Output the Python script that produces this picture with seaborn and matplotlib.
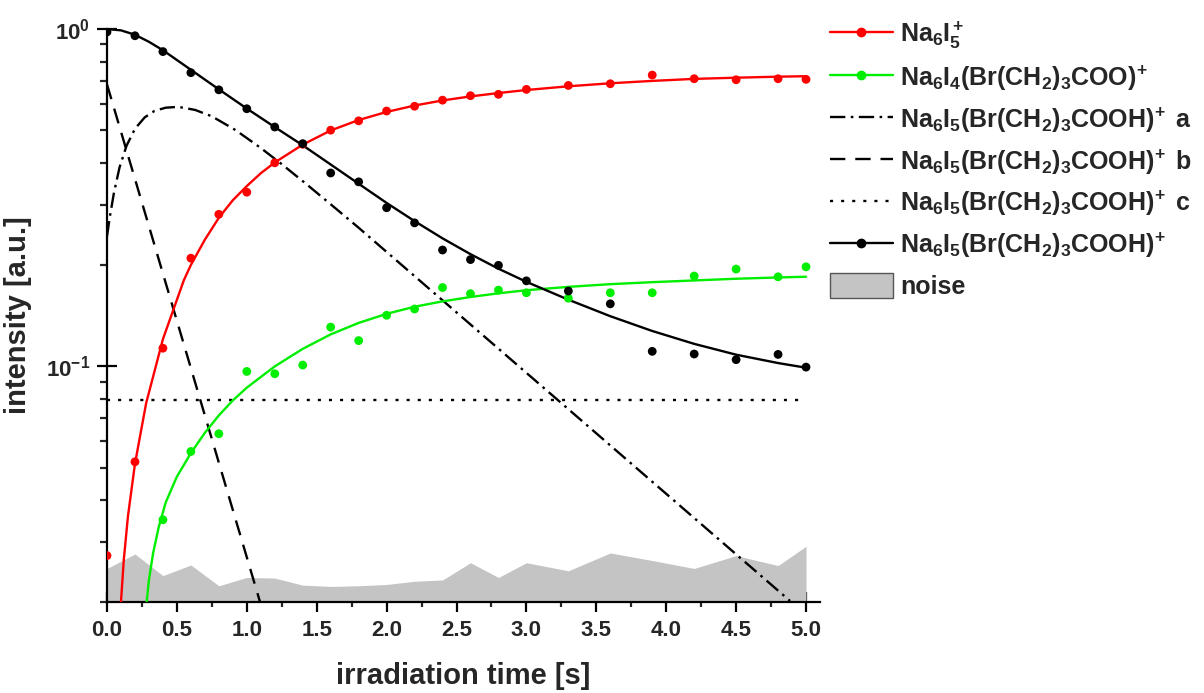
import numpy as np
import matplotlib
matplotlib.use("Agg")
import matplotlib.pyplot as plt
import seaborn as sns
from matplotlib.lines import Line2D
from matplotlib.patches import Patch
from matplotlib.ticker import MultipleLocator, LogLocator, NullFormatter

# ---------------- data ----------------
time = [0.0, 0.2, 0.4, 0.6, 0.8, 1.0, 1.2, 1.4, 1.6, 1.8, 2.0, 2.2, 2.4,
        2.6, 2.8, 3.0, 3.3, 3.6, 3.9, 4.2, 4.5, 4.8, 5.0]
red_pts = [0.0274, 0.052, 0.113, 0.209, 0.282, 0.328, 0.401, 0.455, 0.501,
           0.534, 0.571, 0.590, 0.615, 0.634, 0.640, 0.662, 0.680, 0.688,
           0.730, 0.712, 0.707, 0.712, 0.709]
green_pts = [np.nan, np.nan, 0.0350, 0.0558, 0.0630, 0.0964, 0.0949, 0.1007,
             0.1305, 0.119, 0.1415, 0.1477, 0.171, 0.164, 0.168, 0.165, 0.159,
             0.165, 0.165, 0.185, 0.194, 0.184, 0.197]
black_pts = [0.98, 0.955, 0.857, 0.742, 0.660, 0.580, 0.512, 0.457, 0.374,
             0.352, 0.295, 0.266, 0.221, 0.207, 0.199, 0.179, 0.167, 0.153,
             0.1106, 0.1086, 0.1045, 0.1083, 0.0993]
noise = [0.0251, 0.0277, 0.0239, 0.0257, 0.0223, 0.0236, 0.0235, 0.0224,
         0.0222, 0.0223, 0.0225, 0.0230, 0.0232, 0.0261, 0.0236, 0.0261,
         0.0247, 0.0279, 0.0265, 0.0251, 0.0274, 0.0256, 0.0292]

# fitted curves
fit_red_t = [0.10, 0.12, 0.15, 0.20, 0.28, 0.40, 0.55, 0.60, 0.70, 0.80, 0.90,
             1.00, 1.10, 1.20, 1.40, 1.60, 1.80, 2.00, 2.20, 2.40, 2.60, 2.80,
             3.00, 3.30, 3.60, 3.90, 4.20, 4.50, 4.80, 5.00]
fit_red = [0.0200, 0.0266, 0.0359, 0.0513, 0.0776, 0.1202, 0.1799, 0.1995,
           0.2371, 0.2754, 0.3105, 0.3420, 0.3733, 0.4018, 0.4539, 0.5000,
           0.5370, 0.5675, 0.5929, 0.6138, 0.6310, 0.6457, 0.6592, 0.6761,
           0.6902, 0.7015, 0.7112, 0.7170, 0.7220, 0.7244]
fit_green_t = [0.284, 0.30, 0.33, 0.37, 0.42, 0.50, 0.60, 0.70, 0.80, 0.90,
               1.00, 1.20, 1.40, 1.60, 1.80, 2.00, 2.20, 2.40, 2.60, 2.80,
               3.00, 3.30, 3.60, 3.90, 4.20, 4.50, 4.80, 5.00]
fit_green = [0.0200, 0.0232, 0.0279, 0.0333, 0.0394, 0.0470, 0.0552, 0.0634,
             0.0714, 0.0791, 0.0863, 0.0998, 0.1125, 0.1242, 0.1343, 0.1429,
             0.1500, 0.1556, 0.1603, 0.1644, 0.1679, 0.1718, 0.1750, 0.1774,
             0.1795, 0.1816, 0.1832, 0.1841]
fit_black_t = [0.0, 0.1, 0.2, 0.3, 0.4, 0.6, 0.8, 1.0, 1.2, 1.4, 1.6, 1.8,
               2.0, 2.2, 2.4, 2.6, 2.8, 3.0, 3.3, 3.6, 3.9, 4.2, 4.5, 4.8, 5.0]
fit_black = [1.000, 0.9908, 0.9616, 0.9162, 0.8650, 0.7568, 0.6622, 0.5808,
             0.5117, 0.4519, 0.3963, 0.3475, 0.3048, 0.2692, 0.2393, 0.2148,
             0.1945, 0.1778, 0.1574, 0.1406, 0.1271, 0.1164, 0.1081, 0.1021,
             0.0989]
fit_a_t = [0.0, 0.02, 0.05, 0.09, 0.14, 0.20, 0.27, 0.34, 0.42, 0.51, 0.63,
           0.75, 0.92, 1.10, 1.25, 1.42, 1.60, 1.80, 4.886]
fit_a = [0.2427, 0.2767, 0.3273, 0.3890, 0.4508, 0.5058, 0.5470, 0.5715,
         0.5842, 0.5875, 0.5754, 0.5508, 0.5012, 0.4436, 0.3972, 0.3483,
         0.3020, 0.2573, 0.0201]
fit_b_t = [0.0, 1.094]
fit_b = [0.685, 0.0200]
fit_c_t = [0.0, 5.0]
fit_c = [0.0795, 0.0795]

labels = [r"$Na_6I_5^+$",
          r"$Na_6I_4(Br(CH_2)_3COO)^{\!+}$",
          r"$Na_6I_5(Br(CH_2)_3COOH)^{\!+}$ a",
          r"$Na_6I_5(Br(CH_2)_3COOH)^{\!+}$ b",
          r"$Na_6I_5(Br(CH_2)_3COOH)^{\!+}$ c",
          r"$Na_6I_5(Br(CH_2)_3COOH)^{\!+}$",
          "noise"]

# ---------------- style ----------------
sns.set_theme(style="ticks")
plt.rcParams.update({
    "font.family": ["Liberation Sans", "DejaVu Sans"],
    "font.weight": "bold",
    "axes.labelweight": "bold",
    "mathtext.fontset": "custom",
    "mathtext.rm": "Liberation Sans:bold",
    "mathtext.it": "Liberation Sans:bold",
    "mathtext.bf": "Liberation Sans:bold",
    "mathtext.sf": "Liberation Sans:bold",
    "mathtext.default": "rm",
    "axes.linewidth": 1.6,
})

RED = "#ff0000"
GREEN = "#00ee00"
NOISE = "#c4c4c4"
DASHDOT = (0, (6.5, 2.3, 1.1, 2.3))
DASHED = (0, (6.5, 4.2))
DOTTED = (0, (1.3, 3.4))
LW = 1.7

W, H = 1204, 693
fig = plt.figure(figsize=(W / 100, H / 100), dpi=100)
ax = fig.add_axes([107 / W, 1 - 601.7 / H, (820 - 107) / W, (601.7 - 29) / H])
ax.set_yscale("log")

ax.fill_between(time, 1e-3, noise, color=NOISE, linewidth=0, zorder=1)

common = dict(ax=ax, sort=False, estimator=None, legend=False, lw=LW)
sns.lineplot(x=fit_c_t, y=fit_c, color="black", linestyle=DOTTED, zorder=2, **common)
sns.lineplot(x=fit_b_t, y=fit_b, color="black", linestyle=DASHED, zorder=2, **common)
sns.lineplot(x=fit_a_t, y=fit_a, color="black", linestyle=DASHDOT, zorder=2, **common)
sns.lineplot(x=fit_red_t, y=fit_red, color=RED, zorder=3, **common)
sns.lineplot(x=fit_green_t, y=fit_green, color=GREEN, zorder=3, **common)
sns.lineplot(x=fit_black_t, y=fit_black, color="black", zorder=3, **common)

pts = dict(ax=ax, s=40, edgecolor="none", legend=False, zorder=4)
sns.scatterplot(x=time, y=red_pts, color=RED, **pts)
sns.scatterplot(x=time, y=green_pts, color=GREEN, **pts)
sns.scatterplot(x=time, y=black_pts, color="black", **pts)

ax.set_xlim(0, 5.1)
ax.set_ylim(0.02, 1.0)
ax.set_xticks(np.arange(0, 5.01, 0.5))
ax.set_xticklabels([f"{v:.1f}" for v in np.arange(0, 5.01, 0.5)])
ax.xaxis.set_minor_locator(MultipleLocator(0.25))
ax.set_yticks([0.1, 1.0])
ax.set_yticklabels([r"$10^{-1}$", r"$10^{0}$"])
ax.yaxis.set_minor_locator(LogLocator(base=10, subs=np.arange(2, 10)))
ax.yaxis.set_minor_formatter(NullFormatter())

ax.tick_params(axis="both", which="major", direction="inout", length=14,
               width=1.6, labelsize=16, color="black")
ax.tick_params(axis="x", which="major", pad=6)
ax.tick_params(axis="y", which="major", pad=5)
ax.tick_params(axis="x", which="minor", direction="inout", length=7, width=1.6)
ax.tick_params(axis="y", which="minor", direction="out", length=5, width=1.6)
for lab in ax.get_xticklabels() + ax.get_yticklabels():
    lab.set_fontweight("bold")

sns.despine(ax=ax)
ax.spines["left"].set_color("black")
ax.spines["bottom"].set_color("black")

ax.set_xlabel("irradiation time [s]", fontsize=21, fontweight="bold", labelpad=15)
ax.set_ylabel("intensity [a.u.]", fontsize=21, fontweight="bold", labelpad=10)

handles = [
    Line2D([], [], color=RED, lw=LW, marker="o", ms=6),
    Line2D([], [], color=GREEN, lw=LW, marker="o", ms=6),
    Line2D([], [], color="black", lw=LW, linestyle=DASHDOT),
    Line2D([], [], color="black", lw=LW, linestyle=DASHED),
    Line2D([], [], color="black", lw=LW, linestyle=DOTTED),
    Line2D([], [], color="black", lw=LW, marker="o", ms=6),
    Patch(facecolor=NOISE, edgecolor="#555555", linewidth=1.0),
]
fig.legend(handles, labels, loc="upper left", bbox_to_anchor=(830 / W, 1 - 20 / H),
           bbox_transform=fig.transFigure, frameon=False,
           handlelength=2.5, handleheight=1.2, handletextpad=0.3,
           labelspacing=0.5, borderpad=0, borderaxespad=0,
           prop={"weight": "bold", "size": 18})

fig.savefig("out.png", dpi=100)
